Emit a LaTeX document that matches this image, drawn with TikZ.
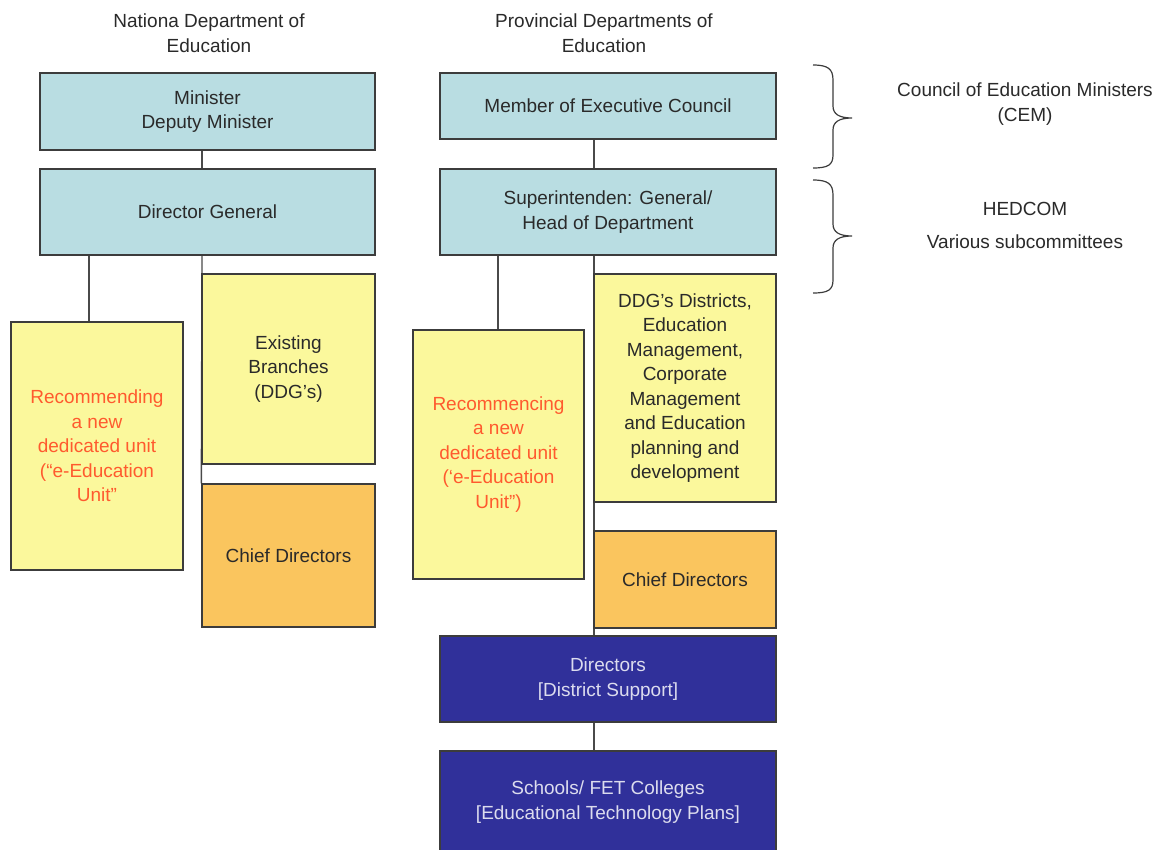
\documentclass[tikz,border=0pt]{standalone}
\usepackage{fontspec}
\setmainfont{Liberation Sans}
\usetikzlibrary{backgrounds}
\definecolor{boxline}{HTML}{3C3C3C}
\definecolor{linkc}{HTML}{4A4A4A}
\definecolor{txt}{HTML}{2A2A2A}
\definecolor{tealf}{HTML}{B9DDE2}
\definecolor{yellf}{HTML}{FBF89C}
\definecolor{orangef}{HTML}{FAC55E}
\definecolor{navyf}{HTML}{30309A}
\definecolor{navytxt}{HTML}{DCDCEE}
\definecolor{redtxt}{HTML}{FF5A2E}
\begin{document}
\begin{tikzpicture}[x=1pt,y=-1pt,
  basefont/.style={font=\fontsize{19}{24.5}\selectfont},
  box/.style={draw=boxline, line width=1.3pt, align=center, inner sep=2pt,
    text=txt, basefont},
  tealbox/.style={box, fill=tealf},
  yellbox/.style={box, fill=yellf},
  orangebox/.style={box, fill=orangef},
  navybox/.style={box, fill=navyf, text=navytxt},
  redtext/.style={text=redtxt},
  label/.style={align=center, text=txt, basefont},
  link/.style={draw=linkc, line width=1.4pt},
  bracket/.style={draw=boxline, line width=1.2pt}
]
\useasboundingbox (0,0) rectangle (1163,850);

% column headings
\node[label] (hnat) at (209,33) {Nationa Department of\\Education};
\node[label] (hprov) at (604,33) {Provincial Departments of\\Education};

% national department
\node[tealbox, minimum width=335pt, minimum height=77pt] (mdm) at (207.5,111.5)
  {Minister\\Deputy Minister};
\node[tealbox, minimum width=335pt, minimum height=86pt] (dg) at (207.5,212)
  {Director General};
\node[yellbox, redtext, minimum width=172pt, minimum height=248pt] (recl) at (97,446)
  {Recommending\\a new\\dedicated unit\\(“e-Education\\Unit”};
\node[yellbox, minimum width=173pt, minimum height=190pt] (exist) at (288.5,369)
  {Existing\\Branches\\(DDG’s)};
\node[orangebox, minimum width=173pt, minimum height=143pt] (chiefl) at (288.5,555.5)
  {Chief Directors};

% provincial departments
\node[tealbox, minimum width=336pt, minimum height=66pt] (mec) at (608,106)
  {Member of Executive Council};
\node[tealbox, minimum width=336pt, minimum height=86pt] (sg) at (608,212)
  {Superintenden: General/\\Head of Department};
\node[yellbox, redtext, minimum width=171pt, minimum height=249pt] (recr) at (498.5,454.5)
  {Recommencing\\a new\\dedicated unit\\(‘e-Education\\Unit”)};
\node[yellbox, minimum width=182pt, minimum height=228pt] (ddg) at (685,388)
  {DDG’s Districts,\\Education\\Management,\\Corporate\\Management\\and Education\\planning and\\development};
\node[orangebox, minimum width=182pt, minimum height=97pt] (chiefr) at (685,579.5)
  {Chief Directors};
\node[navybox, minimum width=336pt, minimum height=86pt] (dirs) at (608,679)
  {Directors\\{[}District Support{]}};
\node[navybox, minimum width=336pt, minimum height=102pt] (schools) at (608,802)
  {Schools/ FET Colleges\\{[}Educational Technology Plans{]}};

% connectors sit behind the boxes
\coordinate (nl) at (89,0);
\coordinate (nr) at (202,0);
\coordinate (pl) at (498,0);
\coordinate (pr) at (594,0);
\begin{scope}[on background layer]
  \fill[white] (0,0) rectangle (1163,850);
  % national side
  \draw[link] (nr |- mdm.south) -- (nr |- dg.north);
  \draw[link] (nl |- dg.south) -- (nl |- recl.north);
  \draw[link] (nr |- dg.south) -- (chiefl.north west);
  % provincial side
  \draw[link] (pr |- mec.south) -- (pr |- sg.north);
  \draw[link] (pl |- sg.south) -- (pl |- recr.north);
  \draw[link] (pr |- sg.south) -- (pr |- dirs.north);
  \draw[link] (pr |- dirs.south) -- (pr |- schools.north);
\end{scope}

% braces grouping the councils
\draw[bracket] (813,65) .. controls (828,65) and (833,69) .. (833,80)
  -- (833,106) .. controls (833,114) and (839,118) .. (852,118)
  .. controls (839,118) and (833,122) .. (833,130)
  -- (833,155) .. controls (833,165) and (828,168) .. (813,168);
\draw[bracket] (813,180) .. controls (828,180) and (833,184) .. (833,195)
  -- (833,224) .. controls (833,232) and (839,236) .. (852,236)
  .. controls (839,236) and (833,240) .. (833,248)
  -- (833,280) .. controls (833,290) and (828,293) .. (813,293);

\node[label] (cem) at (1025,104) {Council of Education Ministers\\(CEM)};
\node[label] (hedcom) at (1025,209) {HEDCOM};
\node[label] (subc) at (1025,242) {Various subcommittees};
\end{tikzpicture}
\end{document}
